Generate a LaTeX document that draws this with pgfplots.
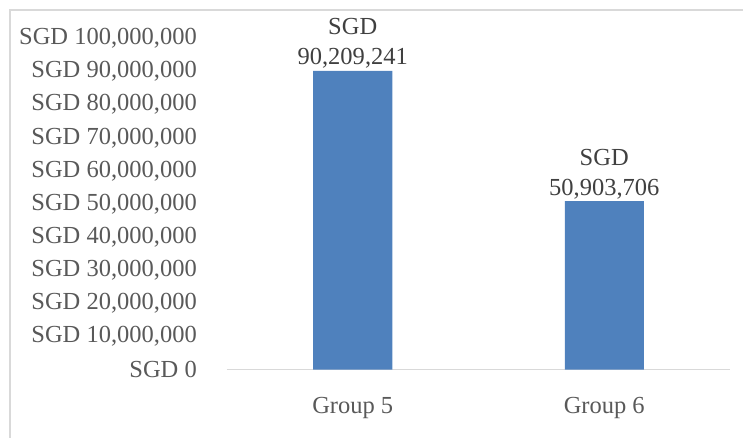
\documentclass[border=0pt]{standalone}
\usepackage{pgfplots}
\pgfplotsset{compat=1.18}
\usepackage{fontspec}
\setmainfont{Liberation Serif}
\definecolor{barblue}{HTML}{4F81BD}
\definecolor{ticktext}{HTML}{595959}
\definecolor{labtext}{HTML}{404040}
\definecolor{framegray}{HTML}{D9D9D9}
\begin{document}
\begin{tikzpicture}[x=1pt,y=1pt]
\draw[framegray, line width=1.5pt] (533,359.5) -- (-217,359.5) -- (-217,-80.5);
\begin{axis}[
  at={(0,0)}, anchor=south west,
  scale only axis,
  width=503pt, height=331pt,
  xmin=-0.5, xmax=1.5,
  ymin=0, ymax=100000000,
  ytick={0,10000000,...,100000000},
  yticklabels={SGD 0,{SGD 10,000,000},{SGD 20,000,000},{SGD 30,000,000},{SGD 40,000,000},{SGD 50,000,000},{SGD 60,000,000},{SGD 70,000,000},{SGD 80,000,000},{SGD 90,000,000},{SGD 100,000,000}},
  xtick={0,1},
  xticklabels={Group 5,Group 6},
  scaled y ticks=false,
  axis y line*=left,
  y axis line style={draw=none},
  axis x line*=bottom,
  x axis line style={framegray, line width=1.5pt, -},
  major tick length=0pt,
  tick style={draw=none},
  y tick label style={font=\fontsize{24.5}{30}\selectfont, text=ticktext, inner sep=0pt, anchor=east, xshift=-30pt},
  x tick label style={font=\fontsize{24.5}{30}\selectfont, text=ticktext, inner sep=0pt, anchor=north, yshift=-28pt},
  clip=false,
  ybar, bar width=79pt,
  point meta=explicit symbolic,
  nodes near coords,
  every node near coord/.append style={font=\fontsize{24.5}{30}\selectfont, text=labtext, align=center, inner sep=0pt, anchor=south, yshift=2pt},
]
\addplot[fill=barblue, draw=none] coordinates {
  (0,90209241) [SGD\\90,209,241]
  (1,50903706) [SGD\\50,903,706]
};
\end{axis}
\pgfresetboundingbox
\useasboundingbox (-227,-67.5) rectangle (516,369.5);
\end{tikzpicture}
\end{document}
